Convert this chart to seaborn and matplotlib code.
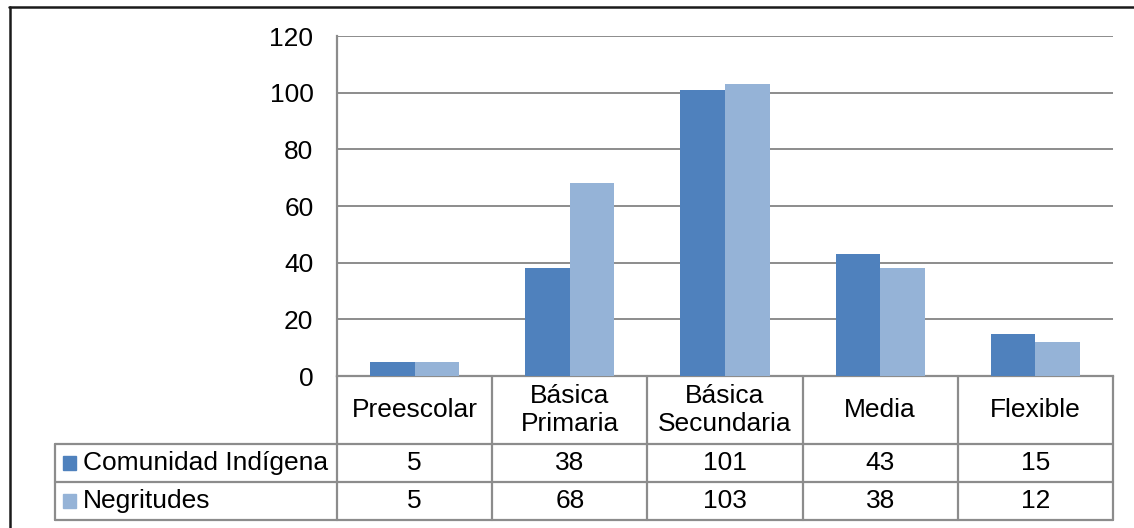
import pandas as pd
import seaborn as sns
import matplotlib.pyplot as plt
from matplotlib.lines import Line2D
from matplotlib.patches import Rectangle
from matplotlib import transforms

categories = ["Preescolar", "Básica\nPrimaria", "Básica\nSecundaria", "Media", "Flexible"]
series_names = ["Comunidad Indígena", "Negritudes"]
indigena = [5, 38, 101, 43, 15]
negritudes = [5, 68, 103, 38, 12]
colors = {"Comunidad Indígena": "#4F81BD", "Negritudes": "#95B3D7"}
yticks = [0, 20, 40, 60, 80, 100, 120]

W, H = 1134, 528
GRID = "#8C8C8C"
FS = 19

df = pd.DataFrame({
    "cat": categories * 2,
    "serie": [series_names[0]] * 5 + [series_names[1]] * 5,
    "valor": indigena + negritudes,
})

sns.set_style("white")
plt.rcParams["font.family"] = ["Liberation Sans", "DejaVu Sans"]
plt.rcParams["text.color"] = "black"
plt.rcParams["ytick.color"] = "black"

fig = plt.figure(figsize=(W / 100, H / 100), dpi=100)
ax = fig.add_axes([337 / W, 1 - 376 / H, (1113 - 337) / W, (376 - 36) / H])

sns.barplot(data=df, x="cat", y="valor", hue="serie", palette=colors,
            saturation=1, width=0.575, legend=False, ax=ax, zorder=3,
            linewidth=0, edgecolor="none")

ax.set_ylim(0, 120)
ax.set_xlim(-0.5, 4.5)
ax.set_yticks(yticks)
ax.set_yticklabels([str(t) for t in yticks], fontsize=FS, color="black")
ax.tick_params(axis="y", length=0, pad=17)
ax.set_xticks([])
ax.set_xlabel("")
ax.set_ylabel("")
ax.yaxis.grid(True, color=GRID, linewidth=1.4, zorder=0)
ax.set_axisbelow(True)
for s in ["top", "right"]:
    ax.spines[s].set_visible(False)
for s in ["left", "bottom"]:
    ax.spines[s].set_color(GRID)
    ax.spines[s].set_linewidth(1.6)

# data table below the plot
tr = transforms.blended_transform_factory(ax.transData, fig.transFigure)
fy = lambda y: 1 - y / H
fx = lambda x: x / W

def hline(x0, x1, y, trans):
    fig.add_artist(Line2D([x0, x1], [y, y], transform=trans, color=GRID, lw=1.6))

def vline(x, y0, y1, trans):
    fig.add_artist(Line2D([x, x], [y0, y1], transform=trans, color=GRID, lw=1.6))

row_y = [444, 482, 520]
for y in row_y:
    hline(-0.5, 4.5, fy(y), tr)
    hline(fx(55), fx(337), fy(y), fig.transFigure)
for i in range(len(categories) + 1):
    vline(i - 0.5, fy(376), fy(520), tr)
vline(fx(55), fy(444), fy(520), fig.transFigure)

for i, c in enumerate(categories):
    fig.text(i, fy(410), c, transform=tr, ha="center", va="center",
             fontsize=FS, linespacing=1.25)
    fig.text(i, fy(463), str(indigena[i]), transform=tr, ha="center", va="center", fontsize=FS)
    fig.text(i, fy(501), str(negritudes[i]), transform=tr, ha="center", va="center", fontsize=FS)

for name, yc in zip(series_names, [463, 501]):
    fig.add_artist(Rectangle((fx(63), fy(yc + 7)), 13 / W, 14 / H,
                             transform=fig.transFigure, color=colors[name]))
    fig.text(fx(83), fy(yc), name, ha="left", va="center", fontsize=FS)

# outer chart frame (cut off at right and bottom)
fig.add_artist(Line2D([fx(9), 1], [fy(6.5), fy(6.5)], transform=fig.transFigure,
                      color="#1a1a1a", lw=1.8))
fig.add_artist(Line2D([fx(9.5), fx(9.5)], [fy(6.5), 0], transform=fig.transFigure,
                      color="#1a1a1a", lw=1.8))

fig.savefig("out.png", dpi=100)
